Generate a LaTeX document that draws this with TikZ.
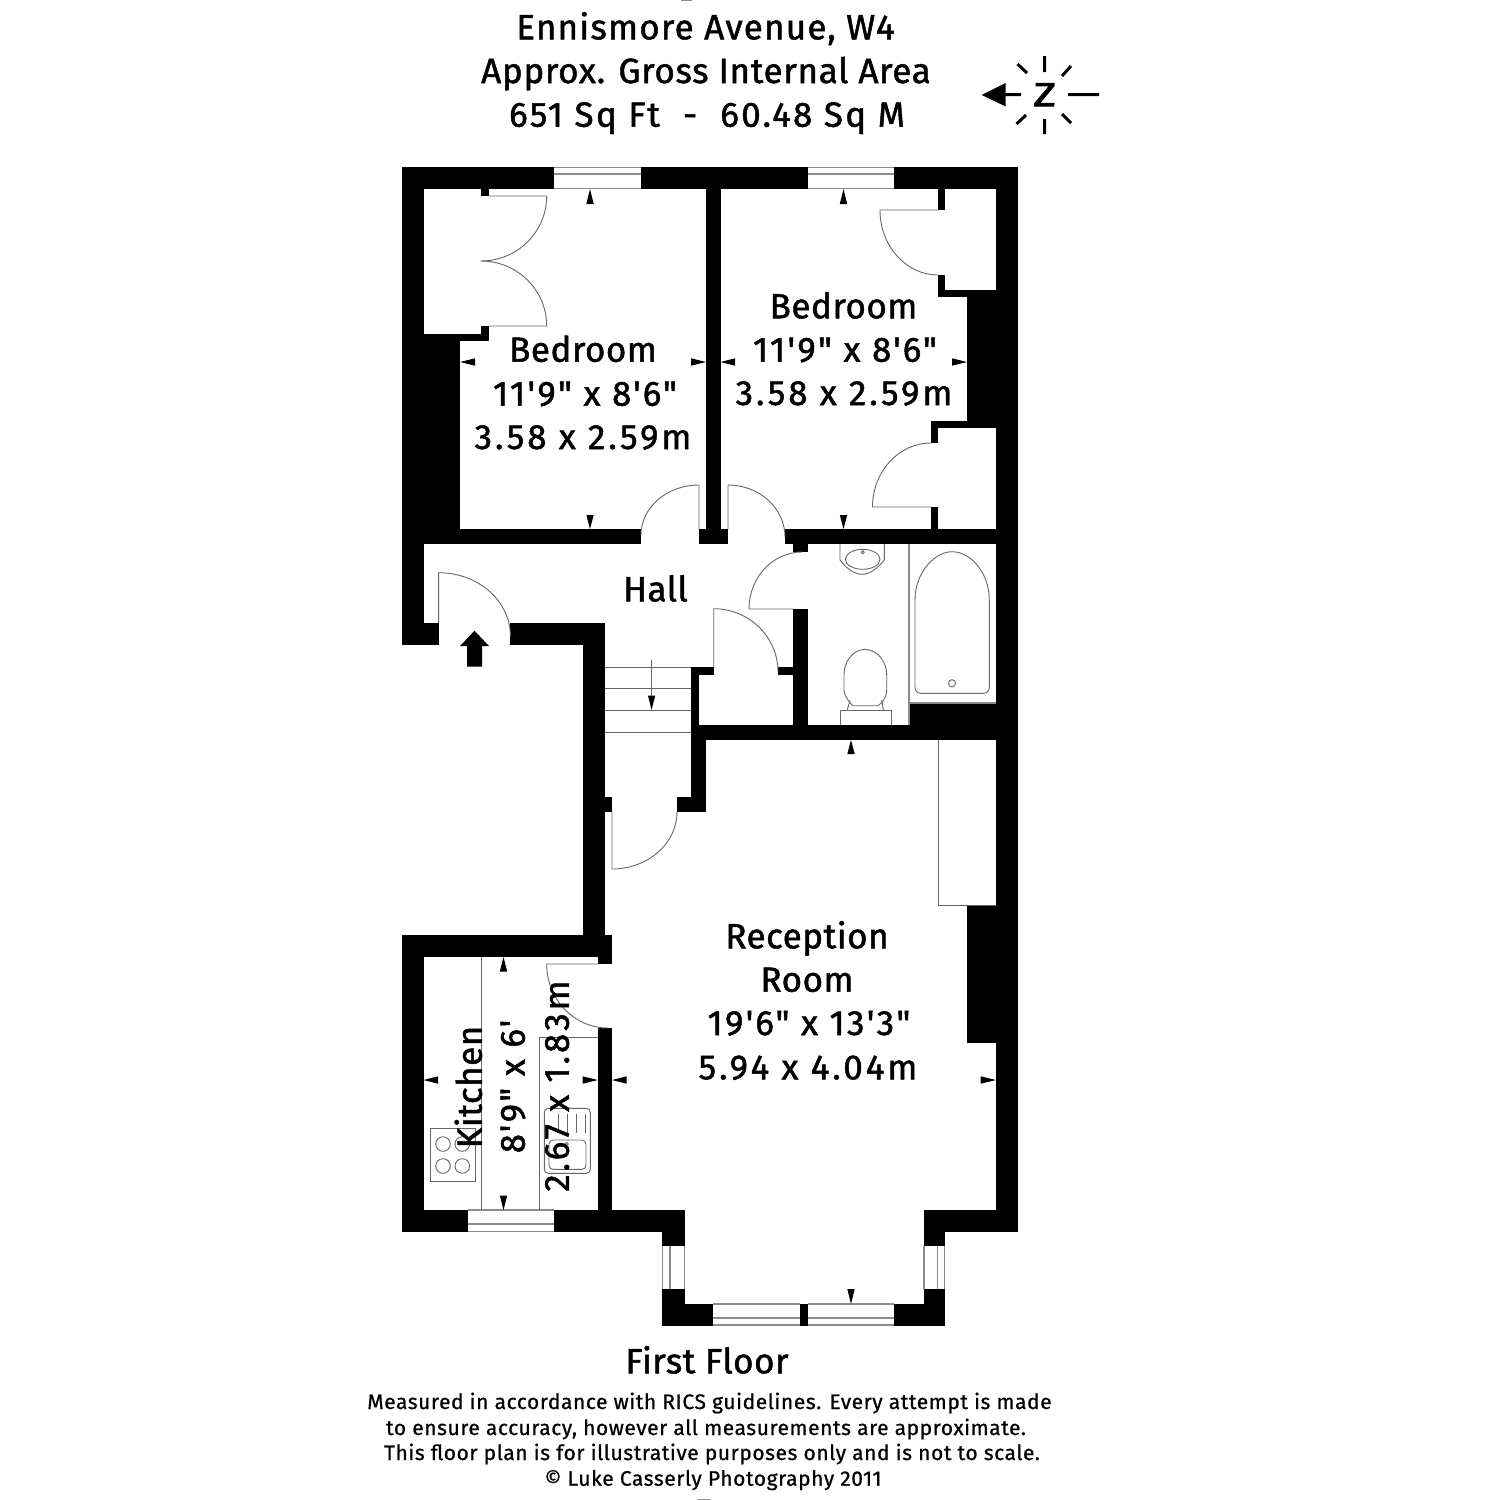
\documentclass[tikz,border=0pt]{standalone}
\usepackage{fontspec}
\setmainfont{Fira Sans}[Ligatures=TeXOff,LetterSpace=1.5,FakeBold=1.4]
\newfontfamily\titlefont{Fira Sans}[Ligatures=TeXOff,LetterSpace=3.5,FakeBold=1.4]
\newfontfamily\numfont{Fira Sans}[Ligatures=TeXOff,LetterSpace=8.5,FakeBold=1.4]
\newfontfamily\dimfont{Fira Sans}[Ligatures=TeXOff,LetterSpace=6.5,FakeBold=1.4]
\newfontfamily\wordfont{Fira Sans}[Ligatures=TeXOff,LetterSpace=5.7,FakeBold=1.4]
\newfontfamily\zedfont{Fira Sans}[Ligatures=TeXOff,FakeBold=3]
\newfontfamily\smallfont{Fira Sans}[Ligatures=TeXOff,LetterSpace=2.7,FakeBold=0.7]
\usetikzlibrary{calc}
\newcommand{\wl}[4]{\fill[wallfill] (#1,#2) rectangle (#3,#4);}
\newcommand{\dr}[8]{\draw[fixture] (#1,#2) -- (#3,#4) .. controls ($(#3,#4)!0.5523!(#5,#6)$) and ($(#7,#8)!0.5523!(#5,#6)$) .. (#7,#8);}
\newcommand{\ta}[6]{\fill[tickfill] (#1,#2) -- (#3,#4) -- (#5,#6) -- cycle;}
\tikzset{
 wallfill/.style={fill=black},
 tickfill/.style={fill=black},
 fixture/.style={draw=black!60,line width=0.9pt},
 winline/.style={draw=black!45,line width=1.1pt},
 lbl/.style={anchor=base,inner sep=0pt,font=\fontsize{35}{40}\selectfont},
 ttl/.style={anchor=base,inner sep=0pt,font=\titlefont\fontsize{35}{40}\selectfont},
 nums/.style={anchor=base,inner sep=0pt,font=\numfont\fontsize{35}{40}\selectfont},
 dims/.style={anchor=base,inner sep=0pt,font=\dimfont\fontsize{35}{40}\selectfont},
 fine/.style={anchor=base,inner sep=0pt,font=\smallfont\fontsize{21}{24}\selectfont},
 north/.style={line width=3pt,draw=black}
}
\begin{document}
\begin{tikzpicture}[x=1pt,y=-1pt]
\useasboundingbox (0,0) rectangle (1500,1500);
\fill[white] (0,0) rectangle (1500,1500);
% tiny marks
\fill[black!45] (681,0) rectangle (692,1.2);
\fill[black!45] (698,1498.8) rectangle (710,1500);
% walls
\wl{401.5}{167}{554}{189}\wl{640.6}{167}{807.5}{189}\wl{894}{167}{1018}{189}
\wl{401.5}{167}{423.5}{645.3}\wl{401.5}{623}{438.6}{645.3}
\wl{423.5}{334}{460}{544}\wl{460}{334}{489}{341.3}\wl{481}{326}{489}{341.3}\wl{481}{189}{489}{196}
\wl{423.5}{529}{641}{544}\wl{699}{529}{728}{544}\wl{706}{189}{720.6}{544}\wl{785}{529}{1018}{544}\wl{793}{544}{808}{552}
\wl{996}{167}{1018}{1232}
\wl{938}{189}{945}{210}\wl{938}{275}{945}{297.3}\wl{938}{290}{996}{297.3}\wl{967}{297}{996}{421}
\wl{931}{421}{996}{428}\wl{931}{428}{938}{443}\wl{931}{507}{938}{529}
\wl{510.4}{623}{604.7}{645.3}\wl{582.6}{623}{604.7}{945}
\wl{401.5}{935}{612}{956.7}\wl{597.8}{956.7}{612}{964}\wl{401.5}{935}{423.5}{1232}\wl{597.8}{1028}{612}{1210}
\wl{401.5}{1210}{467.5}{1232}\wl{553.7}{1210}{684.7}{1232}\wl{662}{1232}{684.7}{1246}
\wl{662}{1289}{684.7}{1325.5}\wl{684.7}{1304}{713.3}{1325.5}\wl{800}{1304}{807.5}{1325.5}
\wl{894}{1304}{945}{1325.5}\wl{923.5}{1289}{945}{1325.5}\wl{923.5}{1210}{945}{1246}\wl{923.5}{1210}{1018}{1232}
\wl{967}{905}{996}{1043}
\wl{793}{609}{808}{740}\wl{691}{725}{1018}{740}\wl{909}{703}{996}{725}
\wl{691}{667}{699}{725}\wl{691}{725}{706.3}{812}\wl{677}{797}{706.3}{812}\wl{604.7}{797}{612}{812}
\wl{691}{667}{713.7}{675}\wl{778}{667}{793}{675}
% windows
\foreach \a/\b in {554/640.6,807.5/894}{
 \draw[winline] (\a,167.5)--(\b,167.5) (\a,174)--(\b,174) (\a,188.7)--(\b,188.7);}
\draw[winline] (467.5,1210)--(553.7,1210) (467.5,1224)--(553.7,1224) (467.5,1231.5)--(553.7,1231.5);
\foreach \a/\b in {713.3/800,807.5/894}{
 \draw[winline] (\a,1304)--(\b,1304) (\a,1318)--(\b,1318) (\a,1325)--(\b,1325);}
\draw[winline] (662.5,1246)--(662.5,1289) (670,1246)--(670,1289) (684.2,1246)--(684.2,1289);
\draw[winline] (924,1246)--(924,1289) (937.8,1246)--(937.8,1289) (944.5,1246)--(944.5,1289);
% doors
\dr{489}{196}{546.7}{196}{546.7}{261}{481}{261}
\dr{489}{326}{546.7}{326}{546.7}{261}{481}{261}
\dr{699}{529}{699}{485}{641}{485}{641}{535}
\dr{728}{529}{728}{485}{785}{485}{785}{537}
\dr{938}{210}{880}{210}{880}{275}{938}{275}
\dr{931}{507}{872.5}{507}{872.5}{443}{931}{443}
\dr{438.6}{623}{438.6}{572.7}{510.4}{572.7}{510.4}{636}
\dr{713.7}{667}{713.7}{608.7}{778}{608.7}{778}{672}
\dr{793}{609}{749}{609}{749}{552}{802}{552}
\dr{612}{812}{612}{869}{677}{869}{677}{812}
\dr{597.8}{964}{546.7}{964}{546.7}{1028}{608}{1028}
% stairs
\foreach \y in {667,688.3,710,732}{\draw[fixture] (604.7,\y)--(691,\y);}
\draw[fixture] (651.6,660)--(651.6,698);
\ta{651.6}{710}{648}{695.7}{655.2}{695.7}
% bathroom
\draw[winline] (909,544)--(909,725) (909,703)--(996,703);
\draw[fixture] (915,600) .. controls (915,572) and (935,551.7) .. (952,551.7) .. controls (970,551.7) and (989.3,572) .. (989.3,600) -- (989.3,687) .. controls (989.3,691) and (987,693.3) .. (983,693.3) -- (921,693.3) .. controls (917,693.3) and (915,691) .. (915,687) -- cycle;
\draw[fixture] (952,683.3) circle[radius=3.6];
\draw[fixture] (840,544)--(840,560) .. controls (846,568) and (854,574.3) .. (862,574.3) .. controls (870,574.3) and (878,568) .. (884.3,560)--(884.3,544);
\draw[fixture] (862.7,559.3) ellipse[x radius=17.3,y radius=10];
\draw[fixture] (862.7,552.3) circle[radius=1.5];
\draw[fixture] (865,649.3) .. controls (852,650) and (844,662) .. (844,675) -- (844,690) .. controls (845,698) and (850,703) .. (853,705.7) -- (878,705.7) .. controls (882,703) and (886.7,698) .. (886.7,690) -- (886.7,675) .. controls (886.7,662) and (878,650) .. (865,649.3) -- cycle;
\draw[fixture] (850,700)--(847.3,710) (881.7,700)--(883.3,710);
\draw[fixture] (840,725)--(840,710)--(891.7,710)--(891.7,725);
% reception cupboard
\draw[fixture] (938,740)--(938,905)--(996,905);
% kitchen units
\draw[fixture] (481.4,956.7)--(481.4,1210);
\draw[fixture] (539.4,1210)--(539.4,1037)--(597.8,1037);
\draw[fixture] (430,1128.3) rectangle (475.7,1181);
\foreach \px in {443,462.3}{\foreach \py in {1144,1166}{\draw[fixture] (\px,\py) circle[radius=7.3];}}
\draw[fixture,rounded corners=4pt] (544.3,1108.3) rectangle (590.3,1173.3);
\draw[fixture,rounded corners=4pt] (549,1140) rectangle (586,1169.3);
\foreach \px in {558.3,567.7,576.7,585}{\draw[fixture] (\px,1114)--(\px,1133);}
\draw[fixture] (566.7,1144) circle[radius=1.5];
% dimension ticks
\ta{590}{189}{586.3}{204}{593.7}{204}\ta{590}{529}{586.3}{515}{593.7}{515}
\ta{460}{362}{475}{358.3}{475}{365.7}\ta{706}{362}{691}{358.3}{691}{365.7}
\ta{720.6}{362}{735}{358.3}{735}{365.7}\ta{967}{362}{952}{358.3}{952}{365.7}
\ta{843.5}{189}{839.8}{204}{847.2}{204}\ta{843.5}{529}{839.8}{515}{847.2}{515}
\ta{851}{740}{847.3}{754}{854.7}{754}\ta{851}{1304}{847.3}{1289}{854.7}{1289}
\ta{612}{1080}{626.7}{1076.3}{626.7}{1083.7}\ta{996}{1080}{980.6}{1076.3}{980.6}{1083.7}
\ta{503.5}{957}{499.8}{971.5}{507.2}{971.5}\ta{503.5}{1210}{499.8}{1195.5}{507.2}{1195.5}
\ta{423.5}{1080}{438}{1076.3}{438}{1083.7}\ta{597.8}{1080}{582.6}{1076.3}{582.6}{1083.7}
% entrance arrow
\fill[tickfill] (474.5,630.7)--(489,646)--(482,646)--(482,666.7)--(467,666.7)--(467,646)--(460,646)--cycle;
% compass
\fill[tickfill] (981.7,95)--(1005.7,83)--(1005.7,106.5)--cycle;
\draw[north] (1000,94.5)--(1021,94.5) (1068,94.5)--(1099,94.5) (1044.7,56)--(1044.7,72) (1044.7,119)--(1044.7,134)
 (1017.5,64)--(1027,73) (1071,66)--(1062,76) (1016.5,124)--(1026,115) (1071,123)--(1062,114);
\node[inner sep=0pt,anchor=base,font=\zedfont\fontsize{33}{40}\selectfont] (northz) at (1044.7,106) {\scalebox{1.3}[1]{Z}};
% titles
\node[ttl] (t1) at (705.5,39.3) {Ennismore Avenue, W4};
\node[lbl,font=\titlefont\fontsize{35}{40}\selectfont\addfontfeature{LetterSpace=2}] (t2) at (706,83) {Approx. Gross Internal Area};
\node[dims] (t3) at (707,126.7) {651 Sq Ft\ \ -\ \ 60.48 Sq M};
% room labels
\node[lbl] (b1a) at (583,361.7) {Bedroom};
\node[dims] (b1b) at (585,405.7) {11'9" x 8'6"};
\node[nums] (b1c) at (583,449) {3.58 x 2.59m};
\node[lbl] (b2a) at (843.5,318.3) {Bedroom};
\node[dims] (b2b) at (845,361.7) {11'9" x 8'6"};
\node[nums] (b2c) at (844,405) {3.58 x 2.59m};
\node[lbl] (hall) at (655.5,601.3) {Hall};
\node[lbl] (r1) at (807,948.3) {Reception};
\node[lbl] (r2) at (807,991.7) {Room};
\node[dims] (r3) at (809,1035) {19'6" x 13'3"};
\node[nums] (r4) at (808,1079.3) {5.94 x 4.04m};
\node[lbl,rotate=90] (k1) at (481.8,1087) {Kitchen};
\node[dims,rotate=90] (k2) at (524.7,1086.5) {8'9" x 6'};
\node[nums,rotate=90] (k3) at (568.8,1086) {2.67 x 1.83m};
\node[lbl] (ff) at (707,1373.3) {First Floor};
\node[fine] (n1) at (709.5,1409) {Measured in accordance with RICS guidelines. Every attempt is made};
\node[fine] (n2) at (706,1435) {to ensure accuracy, however all measurements are approximate.};
\node[fine] (n3) at (712,1460) {This floor plan is for illustrative purposes only and is not to scale.};
\node[fine] (n4) at (713,1485.7) {© Luke Casserly Photography 2011};
\end{tikzpicture}
\end{document}
